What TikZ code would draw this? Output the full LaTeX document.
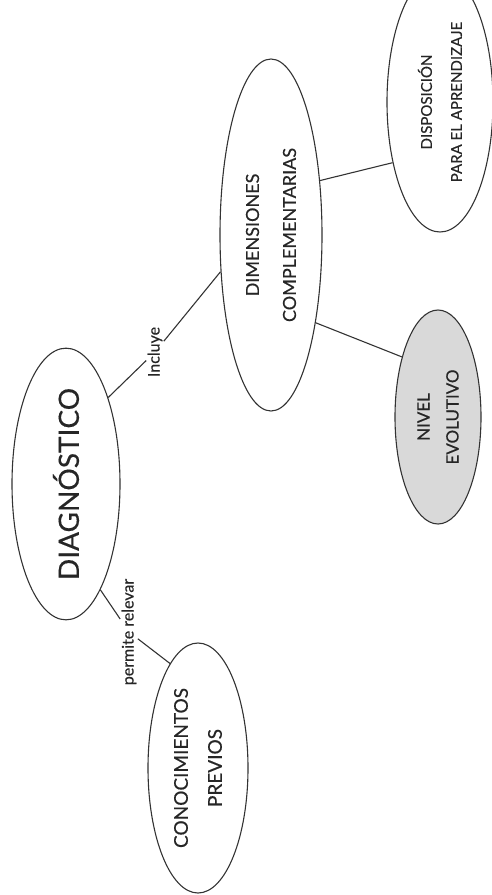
\documentclass[tikz,border=0pt]{standalone}
\usepackage{fontspec}
\setmainfont{Lato}[FakeBold=0.4]
\usepackage{tikz}
\usetikzlibrary{shapes.geometric}

\begin{document}
\begin{tikzpicture}[x=1pt,y=-1pt,line width=1.1pt,black!80]
      \tikzstyle{every node}=[draw,shape=ellipse,rotate=90,inner sep=0pt,align=center,text=black!85]
      \tikzstyle{linklabel}=[draw=none,shape=rectangle,inner sep=1pt,font=\fontsize{16}{19}\selectfont]

      \useasboundingbox (0,0) rectangle (492,895);

      \node[minimum width=262pt,minimum height=108pt,font=\fontsize{28}{34}\selectfont] (diag) at (66,484) {DIAGNÓSTICO};
      \node[minimum width=352pt,minimum height=102pt,font=\fontsize{18}{37}\selectfont] (dim) at (271,235) {DIMENSIONES\\COMPLEMENTARIAS};
      \node[minimum width=260pt,minimum height=106pt,font=\fontsize{15}{30}\selectfont] (disp) at (440,102) {DISPOSICIÓN\\PARA EL APRENDIZAJE};
      \node[minimum width=214pt,minimum height=86pt,fill=gray!30,font=\fontsize{17}{29}\selectfont] (niv) at (438,417) {NIVEL\\EVOLUTIVO};
      \node[minimum width=250pt,minimum height=100pt,font=\fontsize{19}{34}\selectfont] (con) at (198,768) {CONOCIMIENTOS\\PREVIOS};

      \node[linklabel] (incl) at (155,352) {Incluye};
      \node[linklabel] (rel) at (129,632) {permite relevar};

      \draw (diag.-26) -- (incl);
      \draw (incl) -- (dim.126);

      \draw (dim.-42.5) -- (disp.142.7);
      \draw (dim.207.4) -- (niv.31);

      \draw (diag.198.6) -- (rel);
      \draw (rel) -- (con.15);

    \end{tikzpicture}
\end{document}
